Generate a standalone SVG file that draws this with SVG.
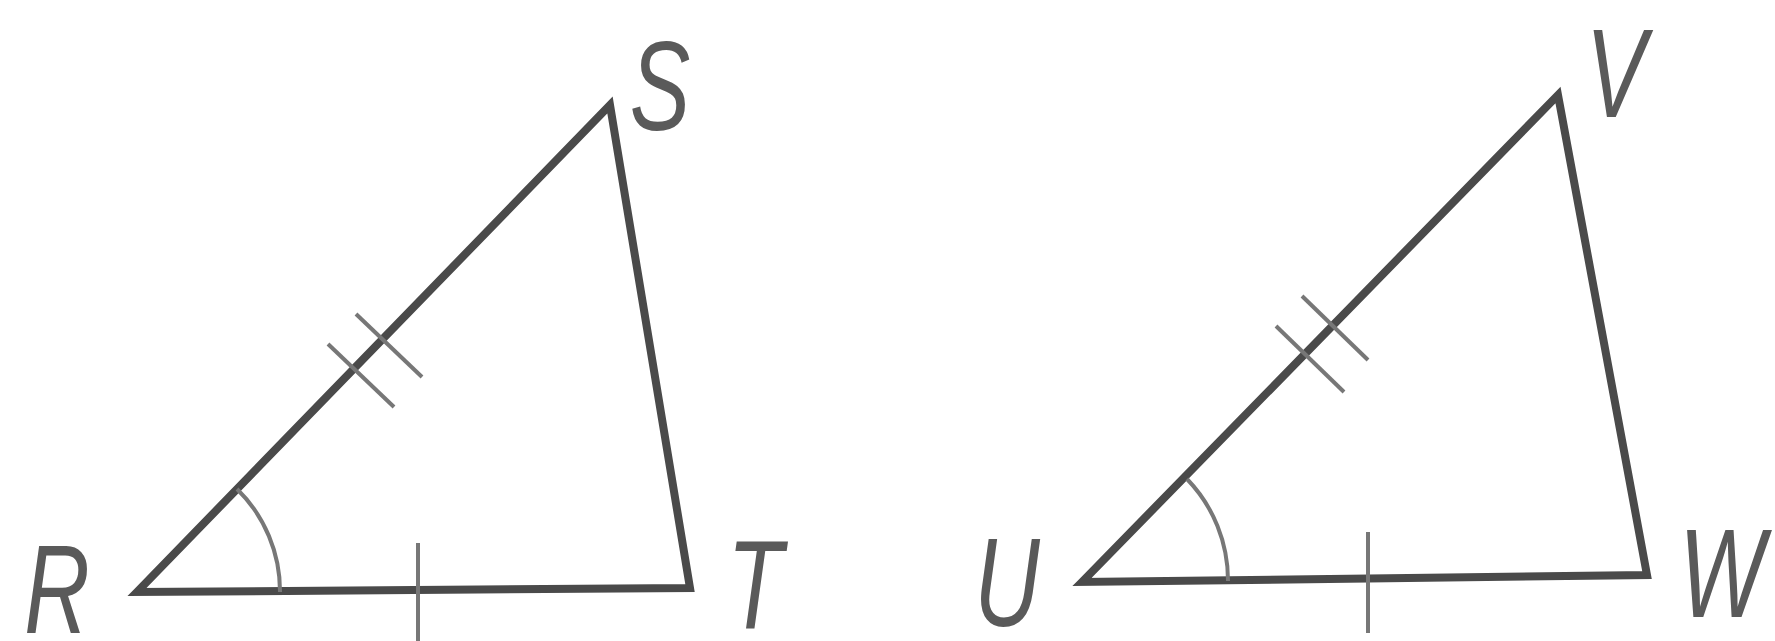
<svg xmlns="http://www.w3.org/2000/svg" width="1775" height="641" viewBox="0 0 1775 641">
<style>
.edge{fill:none;stroke:#4a4a4a;stroke-width:8;stroke-linejoin:miter;stroke-linecap:butt}
.mark{fill:none;stroke:#777777;stroke-width:4}
.lbl{font-family:"Liberation Sans",Arial,sans-serif;font-style:italic;font-size:126px;fill:#5a5a5a;text-anchor:middle}
</style>
<rect width="1775" height="641" fill="#ffffff"/>
<g id="connectors">
<path class="edge" d="M137 592 L610 105 L690 588 Z"/>
<path class="edge" d="M1082 582 L1558 95 L1647 575 Z"/>
<path class="mark" d="M237 489 A143 143 0 0 1 280 592"/>
<path class="mark" d="M418 543 L418 641"/>
<path class="mark" d="M328 344 L394 407"/>
<path class="mark" d="M356 314 L422 377"/>
<path class="mark" d="M1187 479 A146 146 0 0 1 1228 581"/>
<path class="mark" d="M1368 532 L1368 633"/>
<path class="mark" d="M1276 326 L1344 392"/>
<path class="mark" d="M1302 296 L1368 360"/>
</g>
<g id="R"><text class="lbl" transform="translate(57,633) scale(0.72,1)">R</text></g>
<g id="S"><text class="lbl" transform="translate(660,130) scale(0.72,1)">S</text></g>
<g id="T"><text class="lbl" transform="translate(755,628) scale(0.72,1)">T</text></g>
<g id="U"><text class="lbl" transform="translate(1007,626) scale(0.72,1)">U</text></g>
<g id="V"><text class="lbl" transform="translate(1616,117) scale(0.72,1)">V</text></g>
<g id="W"><text class="lbl" transform="translate(1722,617) scale(0.72,1)">W</text></g>
</svg>
